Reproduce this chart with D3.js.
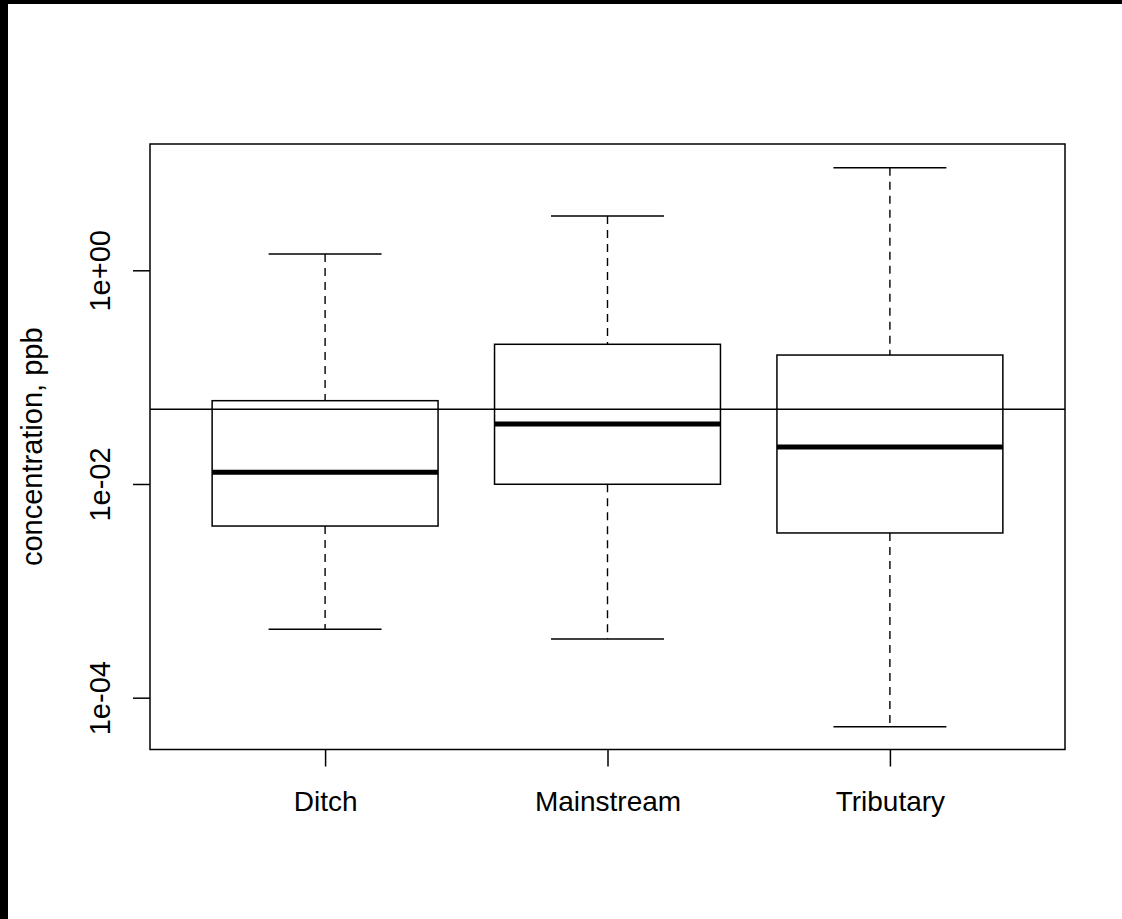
<!DOCTYPE html>
<html>
<head>
<meta charset="utf-8">
<script src="https://cdn.jsdelivr.net/npm/d3@7/dist/d3.min.js"></script>
<style>
  html, body { margin: 0; padding: 0; background: #fff; }
  svg { display: block; }
  text { font-family: "Liberation Sans", Arial, sans-serif; fill: #000; }
</style>
</head>
<body>
<div id="chart"></div>
<script>
// Site groups and their five-number summaries (concentration, ppb)
const categories = ["Ditch", "Mainstream", "Tributary"];
const whiskerLow  = [0.000437, 0.000354, 0.0000535];
const boxLow      = [0.00404, 0.00994, 0.00348];
const medians     = [0.01287, 0.0364, 0.0222];
const boxHigh     = [0.0602, 0.203, 0.161];
const whiskerHigh = [1.42, 3.22, 9.12];
const referenceLevel = 0.05;
const yTickValues = [1e-4, 1e-2, 1];
const yTickLabels = ["1e-04", "1e-02", "1e+00"];
const yTitle = "concentration, ppb";

const W = 1122, H = 919;
const plot = { left: 150, right: 1065, top: 144, bottom: 749.5 };

const svg = d3.select("#chart").append("svg")
  .attr("width", W).attr("height", H);

// outer frame bands
svg.append("rect").attr("x", 0).attr("y", 0).attr("width", W).attr("height", 4).attr("fill", "#000");
svg.append("rect").attr("x", 0).attr("y", 0).attr("width", 8).attr("height", H).attr("fill", "#000");

// x: numeric positions 1..n, extended like a base-graphics boxplot
const x = d3.scaleLinear().domain([0.38, 3.62]).range([plot.left, plot.right]);
const y = d3.scaleLog()
  .domain([Math.pow(10, -4.485), Math.pow(10, 1.182)])
  .range([plot.bottom, plot.top]);

const data = categories.map((c, i) => ({
  name: c, pos: i + 1,
  lo: whiskerLow[i], q1: boxLow[i], med: medians[i], q3: boxHigh[i], hi: whiskerHigh[i]
}));

const boxW = 0.8, stapleW = 0.4;
const g = svg.append("g");

const grp = g.selectAll("g.box").data(data).enter().append("g").attr("class", "box");

// whiskers (dashed)
grp.append("line")
  .attr("x1", d => x(d.pos)).attr("x2", d => x(d.pos))
  .attr("y1", d => y(d.hi)).attr("y2", d => y(d.q3))
  .attr("stroke", "#000").attr("stroke-width", 1.4).attr("stroke-dasharray", "8,6");
grp.append("line")
  .attr("x1", d => x(d.pos)).attr("x2", d => x(d.pos))
  .attr("y1", d => y(d.q1)).attr("y2", d => y(d.lo))
  .attr("stroke", "#000").attr("stroke-width", 1.4).attr("stroke-dasharray", "8,6");

// staples
grp.append("line")
  .attr("x1", d => x(d.pos - stapleW / 2)).attr("x2", d => x(d.pos + stapleW / 2))
  .attr("y1", d => y(d.hi)).attr("y2", d => y(d.hi))
  .attr("stroke", "#000").attr("stroke-width", 1.5);
grp.append("line")
  .attr("x1", d => x(d.pos - stapleW / 2)).attr("x2", d => x(d.pos + stapleW / 2))
  .attr("y1", d => y(d.lo)).attr("y2", d => y(d.lo))
  .attr("stroke", "#000").attr("stroke-width", 1.5);

// boxes
grp.append("rect")
  .attr("x", d => x(d.pos - boxW / 2))
  .attr("width", d => x(d.pos + boxW / 2) - x(d.pos - boxW / 2))
  .attr("y", d => y(d.q3))
  .attr("height", d => y(d.q1) - y(d.q3))
  .attr("fill", "none").attr("stroke", "#000").attr("stroke-width", 1.5);

// medians
grp.append("line")
  .attr("x1", d => x(d.pos - boxW / 2)).attr("x2", d => x(d.pos + boxW / 2))
  .attr("y1", d => y(d.med)).attr("y2", d => y(d.med))
  .attr("stroke", "#000").attr("stroke-width", 5);

// reference level line
svg.append("line")
  .attr("x1", plot.left).attr("x2", plot.right)
  .attr("y1", y(referenceLevel)).attr("y2", y(referenceLevel))
  .attr("stroke", "#000").attr("stroke-width", 1.4);

// plot frame
svg.append("rect")
  .attr("x", plot.left).attr("y", plot.top)
  .attr("width", plot.right - plot.left).attr("height", plot.bottom - plot.top)
  .attr("fill", "none").attr("stroke", "#000").attr("stroke-width", 1.5);

// x axis
const xAxis = d3.axisBottom(x)
  .tickValues(data.map(d => d.pos))
  .tickFormat((d, i) => categories[i])
  .tickSize(17).tickPadding(25);
const xg = svg.append("g").attr("transform", `translate(0,${plot.bottom})`).call(xAxis);
xg.select(".domain").remove();
xg.selectAll(".tick line").attr("stroke", "#000").attr("stroke-width", 1.5);
xg.selectAll(".tick text").attr("font-size", 28).attr("font-family", "Liberation Sans, Arial, sans-serif").attr("fill", "#000")
  .attr("dy", "0.68em");

// y axis with labels parallel to the axis
const yAxis = d3.axisLeft(y)
  .tickValues(yTickValues)
  .tickFormat((d, i) => yTickLabels[i])
  .tickSize(17);
const yg = svg.append("g").attr("transform", `translate(${plot.left},0)`).call(yAxis);
yg.select(".domain").remove();
yg.selectAll(".tick line").attr("stroke", "#000").attr("stroke-width", 1.5);
yg.selectAll(".tick text")
  .attr("font-size", 29).attr("font-family", "Liberation Sans, Arial, sans-serif").attr("fill", "#000")
  .attr("x", null).attr("dy", null)
  .attr("text-anchor", "middle")
  .attr("transform", "translate(-40,0) rotate(-90)");

// y axis title
svg.append("text")
  .attr("transform", `translate(42,${(plot.top + plot.bottom) / 2}) rotate(-90)`)
  .attr("text-anchor", "middle")
  .attr("font-size", 29)
  .text(yTitle);
</script>
</body>
</html>
